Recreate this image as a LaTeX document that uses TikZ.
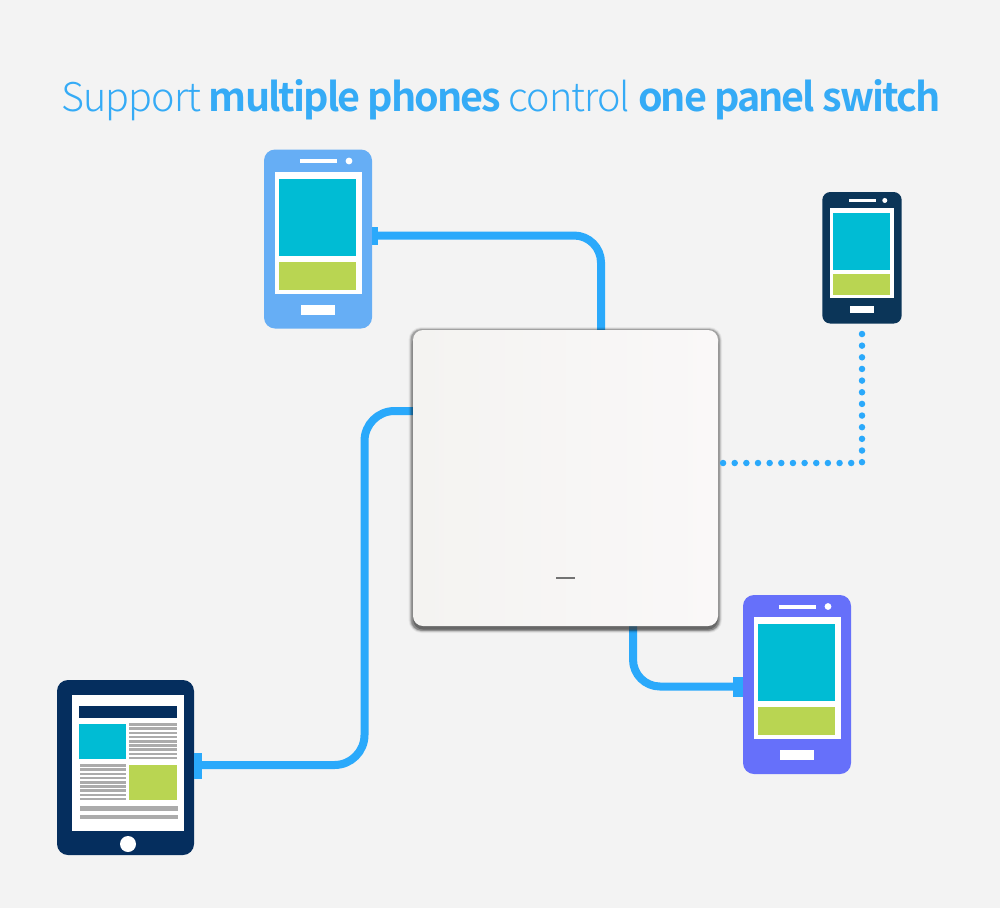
\documentclass[tikz,border=0pt]{standalone}
\usepackage{fontspec}
\newfontfamily\lightf[LetterSpace=-2.5]{Noto Sans CJK KR Light}
\newfontfamily\boldf[LetterSpace=-4.9]{Noto Sans CJK KR Bold}
\definecolor{bgc}{HTML}{F3F3F3}
\definecolor{cablec}{HTML}{2AA9FB}
\definecolor{titlec}{HTML}{35ABF6}
\definecolor{tealc}{HTML}{00BCD4}
\definecolor{greenc}{HTML}{B9D552}
\definecolor{phoneA}{HTML}{66AEF5}
\definecolor{phoneB}{HTML}{0B3558}
\definecolor{phoneC}{HTML}{6670FA}
\definecolor{tabc}{HTML}{052E5E}
\definecolor{stripec}{HTML}{ABABAB}
\definecolor{panelL}{HTML}{F4F3F1}
\definecolor{panelM}{HTML}{F8F6F5}
\definecolor{panelR}{HTML}{FAF8F8}
\tikzset{
  cable/.style={draw=cablec,line width=8pt,rounded corners=27pt},
  dotline/.style={draw=cablec,line width=6.5pt,line cap=round,dash pattern=on 0pt off 11.65pt},
  plug/.style={fill=cablec,draw=none,inner sep=0pt,outer sep=0pt},
  bodybox/.style={draw=none,inner sep=0pt,outer sep=0pt,anchor=north west},
  stripes/.style={stripec,line width=2.6pt}
}
\newcommand{\phonedraw}[5]{% name, x, y, scale, colour
  \begin{scope}[shift={(#2,#3)},scale=#4]
    \node[bodybox,fill=#5,rounded corners={#4*11pt},minimum width={#4*108pt},minimum height={#4*179pt}] (#1) at (0,0) {};
    \fill[white] (36,9.5) rectangle (73,13.5);
    \fill[white] (85,11.5) circle (3.4);
    \fill[white] (11,22) rectangle (98,144);
    \fill[tealc] (15,29) rectangle (92,106);
    \fill[greenc] (15,112) rectangle (92,140);
    \fill[white] (37,155) rectangle (71,165);
  \end{scope}
}
\begin{document}
\begin{tikzpicture}[x=1pt,y=-1pt]
\useasboundingbox (0,0) rectangle (1000,908);
\fill[bgc] (0,0) rectangle (1000,908);

\node[text=titlec,font=\fontsize{39.5}{48}\selectfont,inner sep=0pt] (title) at (501,100)
  {\lightf Support {\boldf multiple phones} control {\boldf one panel switch}};

% devices
\phonedraw{phoneone}{264}{149.5}{1}{phoneA}
\phonedraw{phonetwo}{822.3}{192}{0.735}{phoneB}
\phonedraw{phonethree}{743}{595}{1}{phoneC}

% tablet
\node[bodybox,fill=tabc,rounded corners=11pt,minimum width=137pt,minimum height=175pt] (tablet) at (57,680) {};
\fill[white] (72,695) rectangle (184,831);
\fill[tabc] (79,706) rectangle (177,718);
\fill[tealc] (79,724) rectangle (126,759);
\fill[greenc] (129,765) rectangle (177,800);
\foreach \k in {0,...,8} {
  \draw[stripes] (129,{724.5+\k*4.2}) -- (177,{724.5+\k*4.2});
  \draw[stripes] (80,{765.5+\k*4.2}) -- (126,{765.5+\k*4.2});
}
\fill[stripec] (80,806) rectangle (178,810.5);
\fill[stripec] (80,814.5) rectangle (178,819);
\fill[white] (128,844) circle (8);

% plugs
\node[plug,minimum width=6pt,minimum height=18pt,anchor=west] (plugone) at (372,235.5) {};
\node[plug,minimum width=8pt,minimum height=26pt,anchor=west] (plugtab) at (194,766) {};
\node[plug,minimum width=10pt,minimum height=20pt,anchor=east] (plugthree) at (743,687) {};

% cable end points on the panel edge
\coordinate (paneltop) at (601,332);
\coordinate (panelleft) at (414,411);
\coordinate (panelbottom) at (633,625);
\coordinate (cornerA) at (601,235.5);
\coordinate (cornerB) at (364.5,765);
\coordinate (cornerBb) at (364.5,411);
\coordinate (cornerC) at (633,686.5);
\draw[cable] (plugone.east) -- (cornerA) -- (paneltop);
\draw[cable,rounded corners=30pt] (plugtab.east) ++(0,-1) -- (cornerB) -- (cornerBb) -- (panelleft);
\draw[cable] (panelbottom) -- (cornerC) -- (plugthree.west |- cornerC);

% panel shadow layers
\fill[black,opacity=.05,rounded corners=13pt] (408.5,327) rectangle (722,633);
\fill[black,opacity=.12,rounded corners=12pt] (409.5,328) rectangle (721,632);
\fill[black,opacity=.20,rounded corners=11pt] (410.5,329) rectangle (720,631);
\fill[black,opacity=.15,rounded corners=10pt] (411.5,335) rectangle (719,630.5);
\fill[black!70,opacity=.55,rounded corners=10pt] (413,600) rectangle (718,629.5);
\node[bodybox,rounded corners=10pt,minimum width=305pt,minimum height=296pt,
      left color=panelL,middle color=panelM,right color=panelR] (panel) at (413,330) {};
\fill[black!55] (556,576.5) rectangle (575,579);

% dotted link
\coordinate (dotstart) at (862,334);
\coordinate (dotcorner) at (862,463);
\coordinate (dotend) at (722.5,463);
\draw[dotline] (dotstart) -- (dotcorner) -- (dotend);
\end{tikzpicture}
\end{document}
